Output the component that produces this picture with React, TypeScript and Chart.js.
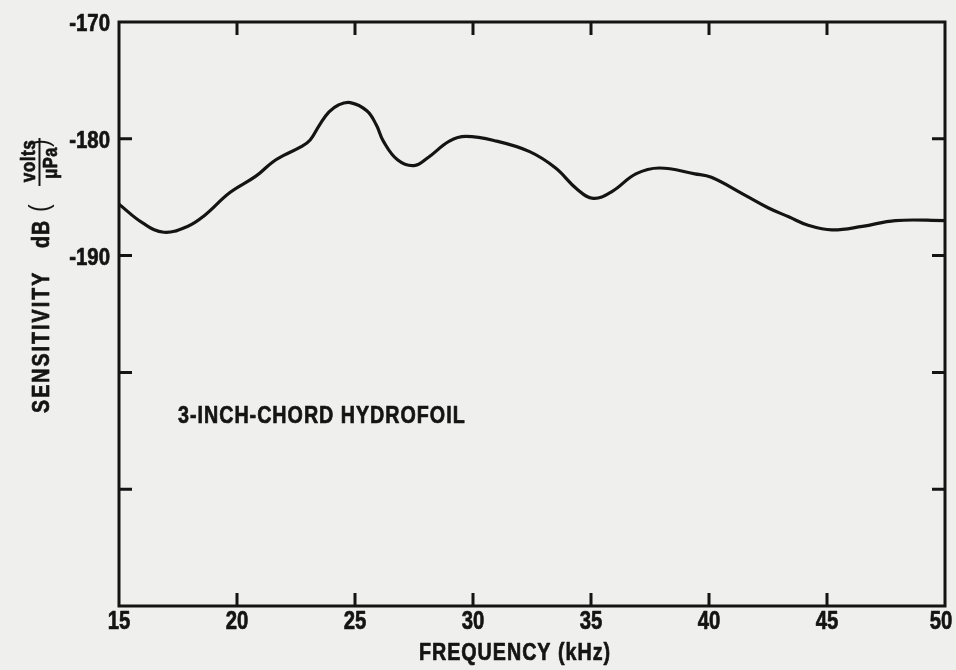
import React, { useEffect, useRef } from "react";
import { Chart, registerables } from "chart.js";

Chart.register(...registerables);

const FREQ_KHZ = [
  15, 16.0, 16.9, 17.9, 18.6, 19.7, 20.8, 21.5, 22.0, 22.7, 23.1, 23.5, 23.9, 24.3, 24.8,
  25.5, 25.9, 26.2, 26.8, 27.5, 28.1, 29.0, 29.7, 31.0, 32.4, 33.5, 34.4, 35.1,
  35.9, 36.9, 37.9, 39.4, 40.1, 41.5, 42.5, 43.4, 44.2, 45.2, 46.5, 47.9, 50,
];
const SENSITIVITY_DB = [
  -185.6, -187.2, -188.0, -187.5, -186.6, -184.6, -183.2, -182.0, -181.4, -180.7, -180.1,
  -178.8, -177.7, -177.1, -176.9, -177.6, -178.8, -180.2, -181.8, -182.3, -181.6, -180.2,
  -179.8, -180.2, -181.1, -182.5, -184.3, -185.1, -184.5, -183.0, -182.5, -183.0,
  -183.3, -184.8, -185.9, -186.7, -187.4, -187.8, -187.5, -187.0, -187.0,
];
const X_TICKS = [15, 20, 25, 30, 35, 40, 45, 50];
const Y_TICKS = [-170, -180, -190, -200, -210, -220];
const Y_LABELED = [-170, -180, -190];
const X_TITLE = "FREQUENCY (kHz)";
const Y_TITLE_MAIN = "SENSITIVITY";
const Y_TITLE_UNIT = "dB";
const Y_FRAC_NUM = "volts";
const Y_FRAC_DEN = "μPa";
const ANNOTATION = "3-INCH-CHORD HYDROFOIL";
const ANNOT_X = 17.5;
const ANNOT_Y = -203.6;

const FONT = "'Liberation Sans', Arial, sans-serif";
const INK = "#141414";
const PAPER = "#efefed";

function txt(
  ctx: CanvasRenderingContext2D,
  s: string,
  x: number,
  y: number,
  size: number,
  align: CanvasTextAlign,
  squeeze: number,
  spacing = 0,
  weight = "bold",
  thicken = 0.7
) {
  ctx.save();
  ctx.translate(x, y);
  ctx.scale(squeeze, 1);
  ctx.font = `${weight} ${size}px ${FONT}`;
  (ctx as any).letterSpacing = `${spacing / squeeze}px`;
  ctx.textAlign = align;
  ctx.textBaseline = "alphabetic";
  ctx.fillText(s, 0, 0);
  if (thicken > 0) {
    ctx.lineWidth = thicken;
    ctx.lineJoin = "round";
    ctx.strokeText(s, 0, 0);
  }
  ctx.restore();
}

const paperPlugin = {
  id: "paper",
  beforeDraw(chart: any) {
    const { ctx, width, height } = chart;
    ctx.save();
    ctx.fillStyle = PAPER;
    ctx.fillRect(0, 0, width, height);
    ctx.restore();
  },
  afterDraw(chart: any) {
    const { ctx, chartArea } = chart;
    const { left, right, top, bottom } = chartArea;
    const xs = chart.scales.x;
    const ys = chart.scales.y;
    ctx.save();
    ctx.strokeStyle = INK;
    ctx.fillStyle = INK;
    ctx.lineWidth = 3;
    ctx.lineCap = "square";
    ctx.strokeRect(left, top, right - left, bottom - top);
    ctx.lineCap = "butt";
    const TL = 13;
    X_TICKS.forEach((v, i) => {
      const px = xs.getPixelForValue(v);
      const shift = i === X_TICKS.length - 1 ? -4 : 0;
      txt(ctx, String(v), px + shift, bottom + 23, 26, "center", 0.78);
      if (i === 0 || i === X_TICKS.length - 1) return;
      ctx.lineWidth = 3;
      ctx.beginPath();
      ctx.moveTo(px, bottom);
      ctx.lineTo(px, bottom - TL);
      ctx.moveTo(px, top);
      ctx.lineTo(px, top + TL);
      ctx.stroke();
    });
    Y_TICKS.forEach((v, i) => {
      const py = ys.getPixelForValue(v);
      if (Y_LABELED.includes(v)) txt(ctx, String(v), left - 9, py + 9, 24, "right", 0.85);
      if (i === 0 || i === Y_TICKS.length - 1) return;
      ctx.lineWidth = 3;
      ctx.beginPath();
      ctx.moveTo(left, py);
      ctx.lineTo(left + TL, py);
      ctx.moveTo(right, py);
      ctx.lineTo(right - TL, py);
      ctx.stroke();
    });

    // annotation inside plot
    txt(ctx, ANNOTATION, xs.getPixelForValue(ANNOT_X), ys.getPixelForValue(ANNOT_Y) + 9, 24, "left", 0.82, 1);

    // x title
    txt(ctx, X_TITLE, 515, 660, 24, "center", 0.82, 1);

    // y title (rotated)
    ctx.save();
    ctx.rotate(-Math.PI / 2);
    txt(ctx, Y_TITLE_MAIN, -413, 49, 24, "left", 0.82, 2);
    txt(ctx, Y_TITLE_UNIT, -248, 49, 24, "left", 0.82, 1);
    txt(ctx, "(", -212, 48, 28, "left", 0.82, 0, "normal", 0);
    txt(ctx, ")", -147, 48, 28, "left", 0.82, 0, "normal", 0);
    txt(ctx, Y_FRAC_NUM, -161, 35, 21, "center", 0.82, 0.5);
    txt(ctx, Y_FRAC_DEN, -163, 57, 20, "center", 0.82, 0.5);
    ctx.lineWidth = 2;
    ctx.beginPath();
    ctx.moveTo(-186, 39.5);
    ctx.lineTo(-138, 39.5);
    ctx.stroke();
    ctx.restore();

    ctx.restore();
  },
};

export default function App() {
  const ref = useRef<HTMLCanvasElement | null>(null);
  useEffect(() => {
    document.body.style.margin = "0";
    document.body.style.background = PAPER;
    const canvas = ref.current!;
    const chart = new Chart(canvas, {
      type: "line",
      data: {
        datasets: [
          {
            data: FREQ_KHZ.map((f, i) => ({ x: f, y: SENSITIVITY_DB[i] })),
            borderColor: INK,
            borderWidth: 3.2,
            pointRadius: 0,
            tension: 0.4,
            fill: false,
          },
        ],
      },
      options: {
        responsive: false,
        animation: false,
        events: [],
        layout: { padding: { top: 22, right: 11, left: 0, bottom: 0 } },
        plugins: { legend: { display: false }, tooltip: { enabled: false } },
        scales: {
          x: {
            type: "linear",
            min: 15,
            max: 50,
            afterBuildTicks: (s: any) => {
              s.ticks = X_TICKS.map((v) => ({ value: v }));
            },
            afterFit: (s: any) => {
              s.height = 64;
              s.paddingLeft = 0;
              s.paddingRight = 0;
            },
            grid: { display: false, drawTicks: false },
            border: { display: false },
            ticks: { display: false },
          },
          y: {
            type: "linear",
            min: -220,
            max: -170,
            afterBuildTicks: (s: any) => {
              s.ticks = Y_TICKS.map((v) => ({ value: v }));
            },
            afterFit: (s: any) => {
              s.width = 119;
              s.paddingTop = 0;
              s.paddingBottom = 0;
            },
            grid: { display: false, drawTicks: false },
            border: { display: false },
            ticks: { display: false },
          },
        },
      },
      plugins: [paperPlugin],
    } as any);
    return () => chart.destroy();
  }, []);
  return (
    <div style={{ width: 956, height: 670 }}>
      <canvas ref={ref} width={956} height={670} style={{ display: "block" }} />
    </div>
  );
}
